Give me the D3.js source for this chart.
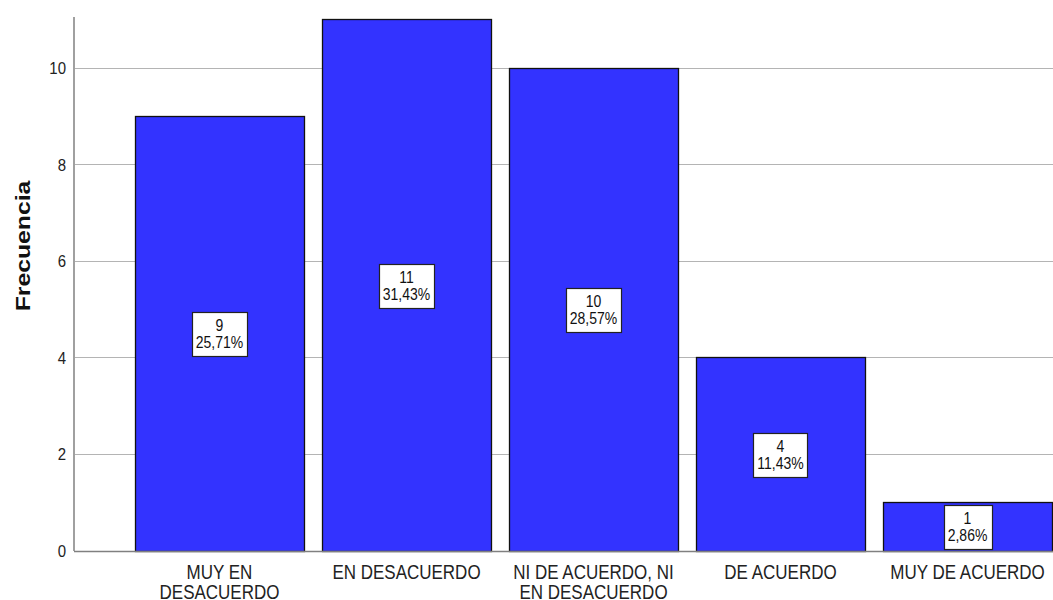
<!DOCTYPE html>
<html>
<head>
<meta charset="utf-8">
<script src="https://cdn.jsdelivr.net/npm/d3@7"></script>
<style>
  html, body { margin: 0; padding: 0; background: #fff; }
  svg { display: block; font-family: "Liberation Sans", Arial, sans-serif; }
</style>
</head>
<body>
<svg id="chart" width="1053" height="600"></svg>
<script>
// Frequency of responses per category
const categories = ["MUY EN DESACUERDO", "EN DESACUERDO", "NI DE ACUERDO, NI EN DESACUERDO", "DE ACUERDO", "MUY DE ACUERDO"];
const categoryLines = [["MUY EN", "DESACUERDO"], ["EN DESACUERDO"], ["NI DE ACUERDO, NI", "EN DESACUERDO"], ["DE ACUERDO"], ["MUY DE ACUERDO"]];
const counts = [9, 11, 10, 4, 1];
const percents = ["25,71%", "31,43%", "28,57%", "11,43%", "2,86%"];
const yTicks = [0, 2, 4, 6, 8, 10];

const W = 1053, H = 600;
const plotLeft = 74, plotTop = 17, plotBottom = 551;
const svg = d3.select("#chart");

const y = d3.scaleLinear().domain([0, 11.07]).range([plotBottom, plotTop]);
const x = d3.scaleBand().domain(categories)
  .range([plotLeft, 1113]).paddingInner(0.096).paddingOuter(0.326);

// horizontal gridlines
svg.append("g").selectAll("line").data(yTicks.filter(d => d > 0)).join("line")
  .attr("x1", plotLeft).attr("x2", W)
  .attr("y1", d => Math.round(y(d)) - 0.5).attr("y2", d => Math.round(y(d)) - 0.5)
  .attr("stroke", "#b4b4b4").attr("stroke-width", 1);

// bars
svg.append("g").selectAll("rect").data(categories).join("rect")
  .attr("x", d => Math.round(x(d)) + 0.5)
  .attr("y", (d, i) => Math.round(y(counts[i])) - 0.5)
  .attr("width", Math.round(x.bandwidth()))
  .attr("height", (d, i) => Math.round(y(0)) - Math.round(y(counts[i])) + 1)
  .attr("fill", "#3333ff").attr("stroke", "#111").attr("stroke-width", 1.3);

// axis lines
svg.append("line").attr("x1", plotLeft).attr("x2", plotLeft).attr("y1", plotTop).attr("y2", plotBottom)
  .attr("stroke", "#a0a0a0").attr("stroke-width", 2);
svg.append("line").attr("x1", plotLeft).attr("x2", W).attr("y1", plotBottom + 0.5).attr("y2", plotBottom + 0.5)
  .attr("stroke", "#808080").attr("stroke-width", 1.3);

// y tick labels
const yAxis = d3.axisLeft(y).tickValues(yTicks).tickSize(0).tickPadding(0).tickFormat(d3.format("d"));
const gy = svg.append("g").attr("transform", `translate(${plotLeft - 8},0)`).call(yAxis);
gy.select(".domain").remove();
gy.selectAll("text")
  .attr("font-size", 15).attr("fill", "#222").attr("dy", null).attr("x", null)
  .attr("font-family", "'Liberation Sans', Arial, sans-serif")
  .attr("transform", "translate(0,5) scale(1,1.12)");

// x category labels (one text element per category, one tspan per line)
const xl = svg.append("g");
categories.forEach((c, i) => {
  const cx = x(c) + x.bandwidth() / 2;
  const t = xl.append("text")
    .attr("transform", `translate(${cx},579) scale(1,1.18)`)
    .attr("text-anchor", "middle").attr("font-size", 17).attr("fill", "#222");
  categoryLines[i].forEach((line, j) => {
    t.append("tspan").attr("x", 0).attr("y", j * 17).text(line);
  });
});

// y title
svg.append("text")
  .attr("transform", `translate(30,246) rotate(-90) scale(1.18,1)`)
  .attr("text-anchor", "middle").attr("font-size", 21).attr("font-weight", "bold")
  .attr("fill", "#111").text("Frecuencia");

// value labels in boxes
const lab = svg.append("g");
categories.forEach((c, i) => {
  const cx = x(c) + x.bandwidth() / 2;
  const cy = y(counts[i] / 2);
  const g = lab.append("g");
  const box = g.append("rect");
  const t1 = g.append("text").attr("text-anchor", "middle").attr("font-size", 14)
    .attr("transform", `translate(${cx},${cy - 2.5}) scale(1,1.2)`).attr("fill", "#111").text(counts[i]);
  const t2 = g.append("text").attr("text-anchor", "middle").attr("font-size", 14)
    .attr("transform", `translate(${cx},${cy + 14}) scale(1,1.2)`).attr("fill", "#111").text(percents[i]);
  const w = Math.max(t1.node().getComputedTextLength(), t2.node().getComputedTextLength()) + 8;
  box.attr("x", Math.round(cx - w / 2) + 0.5).attr("y", Math.round(cy - 22) + 0.5)
    .attr("width", Math.round(w)).attr("height", 44)
    .attr("fill", "#fff").attr("stroke", "#222").attr("stroke-width", 1.2);
});
</script>
</body>
</html>
